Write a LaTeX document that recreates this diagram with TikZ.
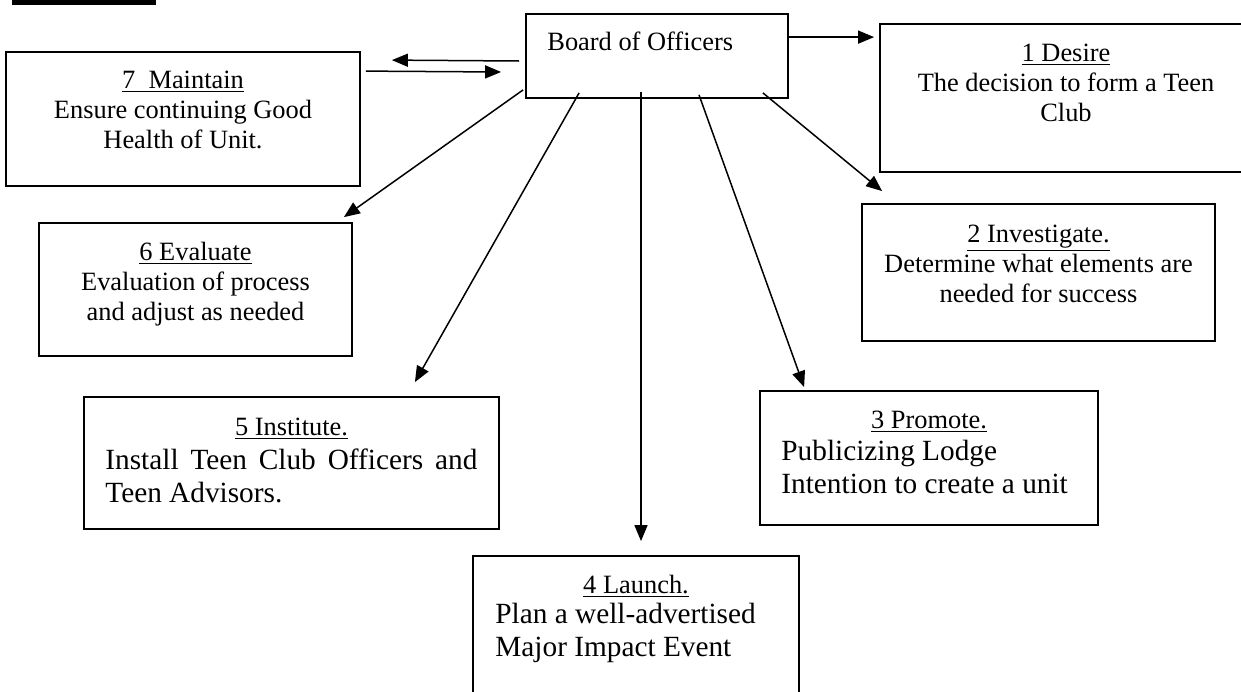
\documentclass[tikz,border=0pt]{standalone}
\usepackage{fontspec}
\setmainfont{Liberation Serif}
\usetikzlibrary{arrows.meta}

\tikzset{
  box/.style={draw, line width=0.9pt, inner sep=0pt},
  txt/.style={inner sep=0pt, align=center, font=\fontsize{13.2}{15}\selectfont},
  bodytxt/.style={inner sep=0pt, align=left, font=\fontsize{14.65}{16.5}\selectfont},
  arr/.style={line width=0.75pt, -{Triangle[length=8pt,width=6.5pt]}}
}

\begin{document}
\begin{tikzpicture}[x=0.5pt, y=-0.5pt]
    \useasboundingbox (0,0) rectangle (1241,691);
    \fill (12,0) rectangle (156,5);

    % boxes
    \node[box, minimum width=131pt, minimum height=42pt]   (board)  at (657,56) {};
    \node[box, minimum width=186pt, minimum height=74pt]   (desire) at (1066,98) {};
    \node[box, minimum width=177pt, minimum height=67pt]   (maint)  at (183,119) {};
    \node[box, minimum width=156.5pt, minimum height=66.5pt] (evalu) at (195.5,289.5) {};
    \node[box, minimum width=176.5pt, minimum height=68.5pt] (invest) at (1038.5,272.5) {};
    \node[box, minimum width=169pt, minimum height=67pt]   (promo)  at (929,458) {};
    \node[box, minimum width=163pt, minimum height=82pt]   (launch) at (636,638) {};
    \node[box, minimum width=207.5pt, minimum height=66pt] (inst)   at (291.5,463) {};

    % texts (base = last line)
    \node[txt, anchor=base west] (boardT) at (547,50) {Board of Officers};
    \node[txt, anchor=base] (desireT) at (1066,121) {\underline{1 Desire}\\The decision to form a Teen\\Club};
    \node[txt, anchor=base] (maintT) at (183,148) {\underline{7\ \ Maintain}\\Ensure continuing Good\\Health of Unit.};
    \node[txt, anchor=base] (evaluT) at (195.5,320) {\underline{6 Evaluate}\\Evaluation of process\\and adjust as needed};
    \node[txt, anchor=base] (investT) at (1038.5,302) {\underline{2 Investigate.}\\Determine what elements are\\needed for success};
    \node[txt, anchor=base] (promoT) at (929,428) {\underline{3 Promote.}};
    \node[bodytxt, anchor=base west] (promoB) at (781,493) {Publicizing Lodge\\Intention to create a unit};
    \node[txt, anchor=base] (launchT) at (636,593) {\underline{4 Launch.}};
    \node[bodytxt, anchor=base west] (launchB) at (495,656) {Plan a well-advertised\\Major Impact Event};
    \node[txt, anchor=base] (instT) at (291.5,435) {\underline{5 Institute.}};
    \node[bodytxt, anchor=base west] (instB) at (105,502) {\makebox[186pt][s]{Install Teen Club Officers and}\\Teen Advisors.};

    % connectors
    \draw[arr] ([shift={(0,24)}]board.north east) -- ([shift={(-5,14)}]desire.north west);
    \draw[arr] ([shift={(-6,5)}]board.west) -- ([shift={(31,9)}]maint.north east);
    \draw[arr] ([shift={(5,20)}]maint.north east) -- ([shift={(-24,16)}]board.west);
    \draw[arr] ([shift={(-2,-9)}]board.south west) -- ([shift={(-9,-5)}]evalu.north east);
    \draw[arr] ([shift={(54,-6)}]board.south west) -- ([shift={(-85,-14)}]inst.north east);
    \draw[arr] ([shift={(-16,-7)}]board.south) -- ([shift={(5,-14)}]launch.north);
    \draw[arr] ([shift={(42,-4)}]board.south) -- ([shift={(45,-3)}]promo.north west);
    \draw[arr] ([shift={(-26,-6)}]board.south east) -- ([shift={(21,-12)}]invest.north west);
  \end{tikzpicture}
\end{document}
